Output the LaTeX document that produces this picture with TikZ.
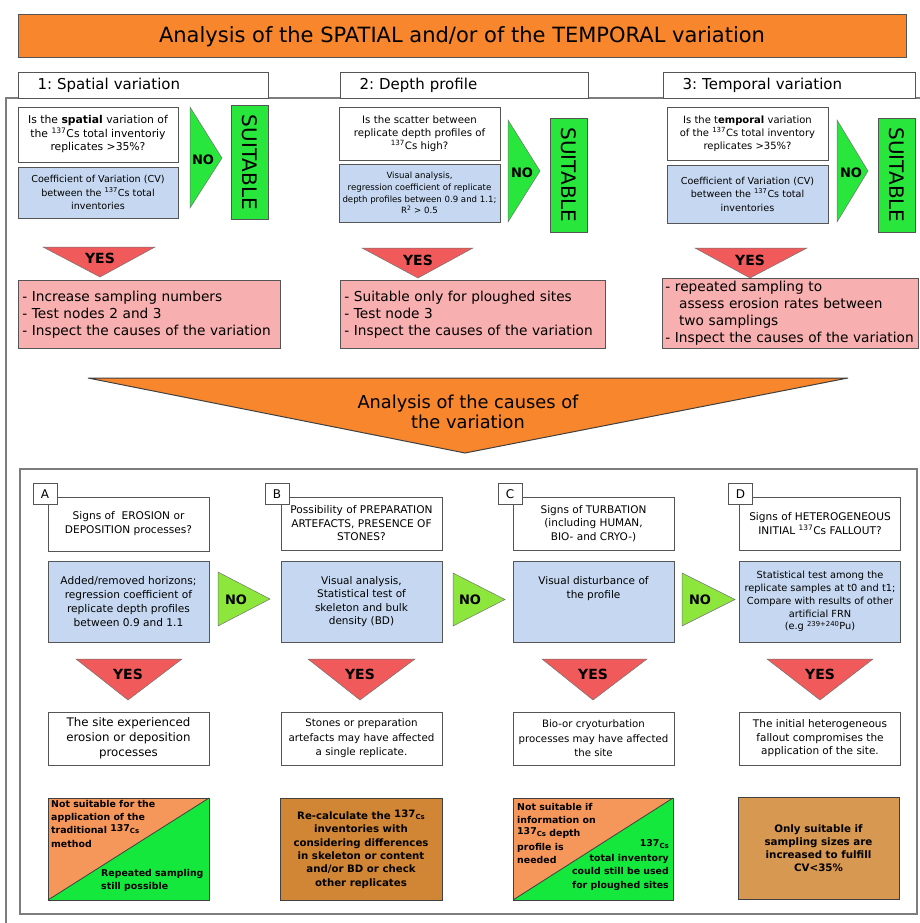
\documentclass[tikz,border=0pt]{standalone}
\usepackage{fontspec}
\setmainfont{DejaVu Sans}
\usetikzlibrary{positioning}

\definecolor{titleorange}{RGB}{247,134,44}
\definecolor{cvblue}{RGB}{198,216,241}
\definecolor{nogreen}{RGB}{40,230,60}
\definecolor{nolime}{RGB}{140,230,60}
\definecolor{yesred}{RGB}{240,90,90}
\definecolor{todopink}{RGB}{247,175,175}
\definecolor{halforange}{RGB}{245,150,90}
\definecolor{halfgreen}{RGB}{20,232,60}
\definecolor{darkorange}{RGB}{208,134,52}
\definecolor{framegray}{RGB}{125,125,125}
\definecolor{edgegray}{RGB}{85,85,85}

\newcommand{\Cstiny}{\textsuperscript{137}Cs}
\newcommand{\Csbold}{\raisebox{0.4ex}{137}{\fontsize{7}{7}\selectfont Cs}}

\begin{document}
\frenchspacing
\begin{tikzpicture}[x=1pt, y=-1pt,
    box/.style={draw=edgegray, line width=0.8pt, align=center, inner sep=2pt},
    qbox/.style={box, fill=white},
    cvbox/.style={box, fill=cvblue},
    hdrbox/.style={box, fill=white, line width=1.1pt, align=left, inner xsep=19pt,
      font=\fontsize{15}{17}\selectfont, minimum height=26pt, anchor=north west},
    okbox/.style={box, fill=nogreen, rotate=-90, minimum width=114pt, minimum height=37pt,
      font=\fontsize{20}{20}\selectfont},
    todobox/.style={box, fill=todopink, align=left, inner xsep=4pt,
      font=\fontsize{13.7}{17}\selectfont, anchor=north west},
    tagbox/.style={box, fill=white, font=\fontsize{12}{12}\selectfont,
      minimum width=24pt, minimum height=21pt},
    endbox/.style={draw=black!75, line width=1pt},
    endtext/.style={font=\fontsize{9.4}{13.3}\selectfont\bfseries, inner sep=0pt},
    notext/.style={font=\fontsize{13}{13}\selectfont\bfseries},
    yestext/.style={font=\fontsize{14}{14}\selectfont\bfseries},
    arrowtri/.style={draw=black!55, line width=0.5pt},
  ]
  \useasboundingbox (0,0) rectangle (920,923);

  % outer frame and title
  \draw[framegray, line width=1.2pt] (920,98) -- (6,98) -- (6,923);
  \node[box, fill=titleorange, line width=1pt, minimum width=888pt, minimum height=43pt,
    font=\fontsize{21}{21}\selectfont] (title) at (462,36.5)
    {Analysis of the SPATIAL and/or of the TEMPORAL variation};

  \node[hdrbox, text width=212pt] (hdrspatial) at (18,72) {1: Spatial variation};
  \node[hdrbox, text width=210pt] (hdrdepth) at (340,72) {2: Depth profile};
  \node[hdrbox, text width=214pt] (hdrtemporal) at (663,72) {3: Temporal variation};

  % 1: spatial
  \node[qbox, minimum width=160pt, minimum height=55pt, font=\fontsize{10.8}{13.5}\selectfont]
    (qspatial) at (98,134.5) {Is the \textbf{spatial} variation of\\the \Cstiny{} total inventoriy\\replicates >35\%?};
  \node[cvbox, minimum width=160pt, minimum height=51pt, font=\fontsize{9.6}{13.5}\selectfont]
    (cvspatial) at (98,192.5) {Coefficient of Variation (CV)\\between the \Cstiny{} total\\inventories};
  \filldraw[arrowtri, fill=nogreen] (190,107) -- (222,158) -- (190,208) -- cycle;
  \node[notext] (nospatial) at (203,160) {NO};
  \node[okbox] (okspatial) at (250,162.5) {SUITABLE};
  \filldraw[arrowtri, fill=yesred] (43,247) -- (155,247) -- (100,277) -- cycle;
  \node[yestext] (yesspatial) at (100,258) {YES};
  \node[todobox, text width=254pt, minimum height=68pt] (todospatial) at (18,280)
    {- Increase sampling numbers\\- Test nodes 2 and 3\\- Inspect the causes of the variation};

  % 2: depth profile
  \node[qbox, minimum width=161pt, minimum height=53pt, font=\fontsize{10.2}{13}\selectfont]
    (qdepth) at (419.5,133.5) {Is the scatter between\\replicate depth profiles of\\\Cstiny{} high?};
  \node[cvbox, minimum width=161pt, minimum height=58pt, font=\fontsize{8.6}{11.8}\selectfont]
    (cvdepth) at (419.5,193) {Visual analysis,\\regression coefficient of replicate\\depth profiles between 0.9 and 1.1;\\R\textsuperscript{2} > 0.5};
  \filldraw[arrowtri, fill=nogreen] (508,120) -- (540,171) -- (508,222) -- cycle;
  \node[notext] (nodepth) at (522,173) {NO};
  \node[okbox] (okdepth) at (568.5,175) {SUITABLE};
  \filldraw[arrowtri, fill=yesred] (362,248) -- (473,248) -- (418,278) -- cycle;
  \node[yestext] (yesdepth) at (418,260) {YES};
  \node[todobox, text width=257pt, minimum height=68pt] (tododepth) at (340,280)
    {- Suitable only for ploughed sites\\- Test node 3\\- Inspect the causes of the variation};

  % 3: temporal
  \node[qbox, minimum width=161pt, minimum height=53pt, font=\fontsize{10}{13}\selectfont]
    (qtemporal) at (747.5,133.5) {Is the t\textbf{emporal} variation\\of the \Cstiny{} total inventory\\replicates >35\%?};
  \node[cvbox, minimum width=161pt, minimum height=58pt, font=\fontsize{9.6}{13.5}\selectfont]
    (cvtemporal) at (747.5,194) {Coefficient of Variation (CV)\\between the \Cstiny{} total\\inventories};
  \filldraw[arrowtri, fill=nogreen] (837,120) -- (868,171) -- (837,222) -- cycle;
  \node[notext] (notemporal) at (851,173) {NO};
  \node[okbox] (oktemporal) at (896.5,175) {SUITABLE};
  \filldraw[arrowtri, fill=yesred] (695,248) -- (807,248) -- (750,278) -- cycle;
  \node[yestext] (yestemporal) at (750,260) {YES};
  \node[todobox, text width=250pt, inner xsep=3pt, minimum height=70pt] (todotemporal) at (662,278)
    {- repeated sampling to\\\hspace*{1em}assess erosion rates between\\\hspace*{1em}two samplings\\\mbox{- Inspect the causes of the variation}};

  % causes
  \filldraw[draw=black!75, line width=1pt, fill=titleorange] (88,378) -- (848,378) -- (465,453) -- cycle;
  \node[font=\fontsize{17.8}{20}\selectfont, align=center] (causes) at (468,412)
    {Analysis of the causes of\\the variation};
  \draw[framegray, line width=1.5pt] (20,469) rectangle (917,914);

  % A
  \node[qbox, minimum width=161pt, minimum height=54pt, font=\fontsize{10.6}{14}\selectfont]
    (qerosion) at (128.5,524) {Signs of \ EROSION or\\DEPOSITION processes?};
  \node[tagbox] (tagA) at (45,494) {A};
  \node[cvbox, minimum width=161pt, minimum height=81pt, font=\fontsize{10.6}{14}\selectfont]
    (cverosion) at (128.5,601.5) {Added/removed horizons;\\regression coefficient of\\replicate depth profiles\\between 0.9 and 1.1};
  \filldraw[arrowtri, fill=nolime] (218,572) -- (270,599) -- (218,626) -- cycle;
  \node[notext] (noerosion) at (236,600) {NO};
  \filldraw[arrowtri, fill=yesred] (76,659) -- (182,659) -- (128,700) -- cycle;
  \node[yestext] (yeserosion) at (128,674) {YES};
  \node[qbox, minimum width=161pt, minimum height=53pt, font=\fontsize{11.8}{15}\selectfont]
    (rerosion) at (128.5,738.5) {The site experienced\\erosion or deposition\\processes};
  \fill[halforange] (48,900) -- (48,798) -- (209,798) -- cycle;
  \fill[halfgreen] (48,900) -- (209,798) -- (209,900) -- cycle;
  \draw[endbox] (48,798) rectangle (209,900);
  \draw[black!75, line width=0.8pt] (48,900) -- (209,798);
  \node[endtext, anchor=north west, align=left] (endAtop) at (51,800)
    {Not suitable for the\\application of the\\traditional \Csbold\\method};
  \node[endtext, anchor=north west, align=left] (endAbottom) at (101,869)
    {Repeated sampling\\still possible};

  % B
  \node[qbox, minimum width=161pt, minimum height=53pt, font=\fontsize{10.6}{13.5}\selectfont]
    (qartefacts) at (361.5,523.5) {Possibility of PREPARATION\\ARTEFACTS, PRESENCE OF\\STONES?};
  \node[tagbox] (tagB) at (277,494) {B};
  \node[cvbox, minimum width=161pt, minimum height=81pt, font=\fontsize{10.5}{13.5}\selectfont]
    (cvartefacts) at (361.5,601.5) {Visual analysis,\\Statistical test of\\skeleton and bulk\\density (BD)};
  \filldraw[arrowtri, fill=nolime] (453,573) -- (505,599.5) -- (453,626) -- cycle;
  \node[notext] (noartefacts) at (470,600) {NO};
  \filldraw[arrowtri, fill=yesred] (308,659) -- (415,659) -- (360,700) -- cycle;
  \node[yestext] (yesartefacts) at (360,674) {YES};
  \node[qbox, minimum width=161pt, minimum height=53pt, font=\fontsize{10.3}{14.5}\selectfont]
    (rartefacts) at (361.5,738.5) {Stones or preparation\\artefacts may have affected\\a single replicate.};
  \node[endbox, fill=darkorange, minimum width=162pt, minimum height=102pt, align=center,
    font=\fontsize{10.2}{13.3}\selectfont\bfseries] (endB) at (361,849)
    {Re-calculate the \Csbold\\inventories with\\considering differences\\in skeleton or content\\and/or BD or check\\other replicates};

  % C
  \node[qbox, minimum width=161pt, minimum height=53pt, font=\fontsize{10.5}{13.5}\selectfont]
    (qturbation) at (593.5,523.5) {Signs of TURBATION\\(including HUMAN,\\BIO- and CRYO-)};
  \node[tagbox] (tagC) at (510,494) {C};
  \node[cvbox, minimum width=161pt, minimum height=81pt, font=\fontsize{10.5}{14}\selectfont]
    (cvturbation) at (593.5,601.5) {Visual disturbance of\\the profile\\[14pt]};
  \filldraw[arrowtri, fill=nolime] (682,573) -- (735,599.5) -- (682,626) -- cycle;
  \node[notext] (noturbation) at (700,600) {NO};
  \filldraw[arrowtri, fill=yesred] (542,659) -- (647,659) -- (593,700) -- cycle;
  \node[yestext] (yesturbation) at (593,674) {YES};
  \node[qbox, minimum width=161pt, minimum height=53pt, font=\fontsize{10.2}{14.5}\selectfont]
    (rturbation) at (593.5,738.5) {Bio-or cryoturbation\\processes may have affected\\the site};
  \fill[halforange] (513,900) -- (513,798) -- (673,798) -- cycle;
  \fill[halfgreen] (513,900) -- (673,798) -- (673,900) -- cycle;
  \draw[endbox] (513,798) rectangle (673,900);
  \draw[black!75, line width=0.8pt] (513,900) -- (673,798);
  \node[endtext, anchor=north west, align=left] (endCtop) at (517,803)
    {Not suitable if\\information on\\\Csbold{} depth\\profile is\\needed};
  \node[endtext, anchor=north east, align=right] (endCbottom) at (669,839)
    {\Csbold\\total inventory\\could still be used\\for ploughed sites};

  % D
  \node[qbox, minimum width=161pt, minimum height=53pt, font=\fontsize{10.6}{13.5}\selectfont]
    (qfallout) at (820,523.5) {Signs of HETEROGENEOUS\\INITIAL \Cstiny{} FALLOUT?};
  \node[tagbox] (tagD) at (740.5,494) {D};
  \node[cvbox, minimum width=161pt, minimum height=81pt, font=\fontsize{9.8}{12.8}\selectfont]
    (cvfallout) at (820,601.5) {Statistical test among the\\replicate samples at t0 and t1;\\Compare with results of other\\artificial FRN\\(e.g \textsuperscript{239+240}Pu)};
  \filldraw[arrowtri, fill=yesred] (767,659) -- (873,659) -- (820,700) -- cycle;
  \node[yestext] (yesfallout) at (820,674) {YES};
  \node[qbox, minimum width=161pt, minimum height=53pt, font=\fontsize{10.5}{13.5}\selectfont]
    (rfallout) at (820,738.5) {The initial heterogeneous\\fallout compromises the\\application of the site.};
  \node[endbox, fill=darkorange!85!white, minimum width=161pt, minimum height=102pt, align=center,
    font=\fontsize{10.3}{13}\selectfont\bfseries] (endD) at (818.5,848)
    {Only suitable if\\sampling sizes are\\increased to fulfill\\CV<35\%};
\end{tikzpicture}
\end{document}
